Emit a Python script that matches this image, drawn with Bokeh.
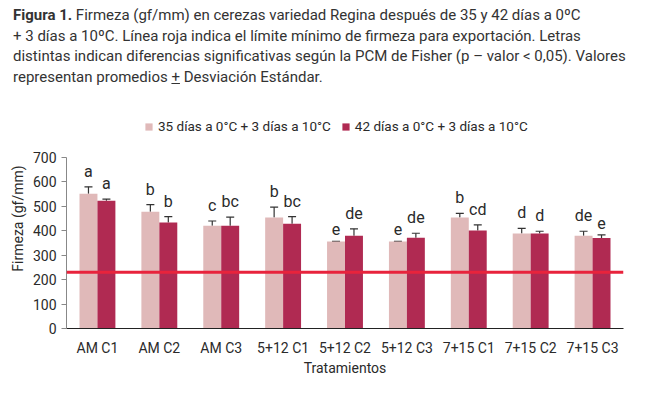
from bokeh.plotting import figure
from bokeh.models import (ColumnDataSource, FactorRange, Legend, LegendItem, Div,
                          Span, Whisker, Range1d, SingleIntervalTicker)
from bokeh.layouts import column
from bokeh.transform import dodge
from bokeh.core.properties import value
from bokeh.embed import file_html
from bokeh.resources import INLINE

treatments = ["AM C1", "AM C2", "AM C3", "5+12 C1", "5+12 C2", "5+12 C3",
              "7+15 C1", "7+15 C2", "7+15 C3"]
series_names = ["35 días a 0°C + 3 días a 10°C", "42 días a 0°C + 3 días a 10°C"]
mean_35 = [552, 478, 421, 454, 356, 356, 454, 389, 380]
sd_35 = [28, 29, 19, 43, 1, 1, 17, 21, 18]
mean_42 = [523, 434, 421, 429, 380, 372, 401, 389, 370]
sd_42 = [7, 24, 35, 29, 28, 18, 23, 9, 13]
letters_35 = ["a", "b", "c", "b", "e", "e", "b", "d", "de"]
letters_42 = ["a", "b", "bc", "bc", "de", "de", "cd", "d", "e"]
export_limit = 230
y_max = 700

title_bold = "Figura 1."
title_lines = [
    "Firmeza (gf/mm) en cerezas variedad Regina después de 35 y 42 días a 0ºC",
    "+ 3 días a 10ºC. Línea roja indica el límite mínimo de firmeza para exportación. Letras",
    "distintas indican diferencias significativas según la PCM de Fisher (p – valor &lt; 0,05). Valores",
    "representan promedios <u>+</u> Desviación Estándar.",
]

FONT = "Roboto"
LIGHT = "#E0B9B9"
DARK = "#B02A52"
TXT = "#2a2a2a"

# layout (pixels)
DIV_H = 104
FIG_W, FIG_H = 644, 284
TOP_B, BOT_B = 4, 60
FRAME_H = FIG_H - TOP_B - BOT_B
AXIS_PX = 171          # pixel height of the 0..700 axis span
range_top = y_max * FRAME_H / AXIS_PX

src = ColumnDataSource(dict(
    t=treatments,
    m35=mean_35, m42=mean_42,
    u35=[m + s for m, s in zip(mean_35, sd_35)],
    u42=[m + s for m, s in zip(mean_42, sd_42)],
    l35=letters_35, l42=letters_42,
))

p = figure(x_range=FactorRange(*treatments), y_range=Range1d(0, range_top),
           width=FIG_W, height=FIG_H, output_backend="svg", toolbar_location=None,
           min_border_left=66, min_border_right=21, min_border_top=TOP_B,
           min_border_bottom=BOT_B)
p.x_range.range_padding = 0

bw = 0.29
r1 = p.vbar(x=dodge("t", -bw / 2, range=p.x_range), top="m35", width=bw,
            source=src, fill_color=LIGHT, line_color=None)
r2 = p.vbar(x=dodge("t", bw / 2, range=p.x_range), top="m42", width=bw,
            source=src, fill_color=DARK, line_color=None)

for off, up, lo in ((-bw / 2, "u35", "m35"), (bw / 2, "u42", "m42")):
    w = Whisker(base=dodge("t", off, range=p.x_range), upper=up, lower=lo,
                source=src, line_color="#333333", line_width=1.2)
    w.upper_head.size = 8
    w.upper_head.line_color = "#333333"
    w.upper_head.line_width = 1.2
    w.lower_head = None
    p.add_layout(w)

p.text(x=dodge("t", -bw / 2, range=p.x_range), y="u35", text="l35", source=src,
       text_align="center", text_baseline="bottom", y_offset=-6,
       text_font=value(FONT), text_font_size="16px", text_color=TXT)
p.text(x=dodge("t", bw / 2, range=p.x_range), y="u42", text="l42", source=src,
       text_align="center", text_baseline="bottom", y_offset=-6,
       text_font=value(FONT), text_font_size="16px", text_color=TXT)

p.add_layout(Span(location=export_limit, dimension="width", line_color="#E8233C",
                  line_width=3))

legend = Legend(items=[LegendItem(label=series_names[0], renderers=[r1]),
                       LegendItem(label=series_names[1], renderers=[r2])],
                orientation="horizontal", location=(78, 194),
                label_text_font=FONT, label_text_font_size="13.5px",
                label_text_color=TXT, glyph_width=9, glyph_height=9,
                spacing=10, label_standoff=5, border_line_color=None,
                background_fill_alpha=0, margin=0, padding=4)
p.add_layout(legend, "center")

p.xgrid.grid_line_color = None
p.ygrid.grid_line_color = None
p.outline_line_color = None

p.yaxis.ticker = SingleIntervalTicker(interval=100)
p.yaxis.bounds = (0, y_max)
p.yaxis.axis_label = "Firmeza (gf/mm)"
p.xaxis.axis_label = "Tratamientos"
for ax in (p.xaxis[0], p.yaxis[0]):
    ax.major_label_text_font = FONT
    ax.major_label_text_font_size = "14px"
    ax.major_label_text_color = TXT
    ax.axis_label_text_font = FONT
    ax.axis_label_text_font_size = "14px"
    ax.axis_label_text_font_style = "normal"
    ax.axis_label_text_color = TXT
    ax.minor_tick_line_color = None
p.yaxis.axis_line_color = "#888888"
p.yaxis.major_tick_line_color = "#888888"
p.yaxis.major_tick_in = 0
p.yaxis.major_tick_out = 5
p.yaxis.axis_label_standoff = 4
p.xaxis.axis_line_color = "#222222"
p.xaxis.major_tick_line_color = None
p.xaxis.major_tick_in = 0
p.xaxis.major_tick_out = 0
p.xaxis.major_label_standoff = 11
p.xaxis.axis_label_standoff = 1

html = ("<div style='font-family:Roboto;font-size:15px;line-height:20.5px;color:#333;"
        "padding:5px 0 0 13px;white-space:nowrap'>"
        "<b>" + title_bold + "</b> " + "<br>".join(title_lines) + "</div>")
title = Div(text=html, width=FIG_W, height=DIV_H, margin=(0, 0, 0, 0))

layout = column(title, p, spacing=0)
open("out.html", "w").write(file_html(layout, INLINE))
